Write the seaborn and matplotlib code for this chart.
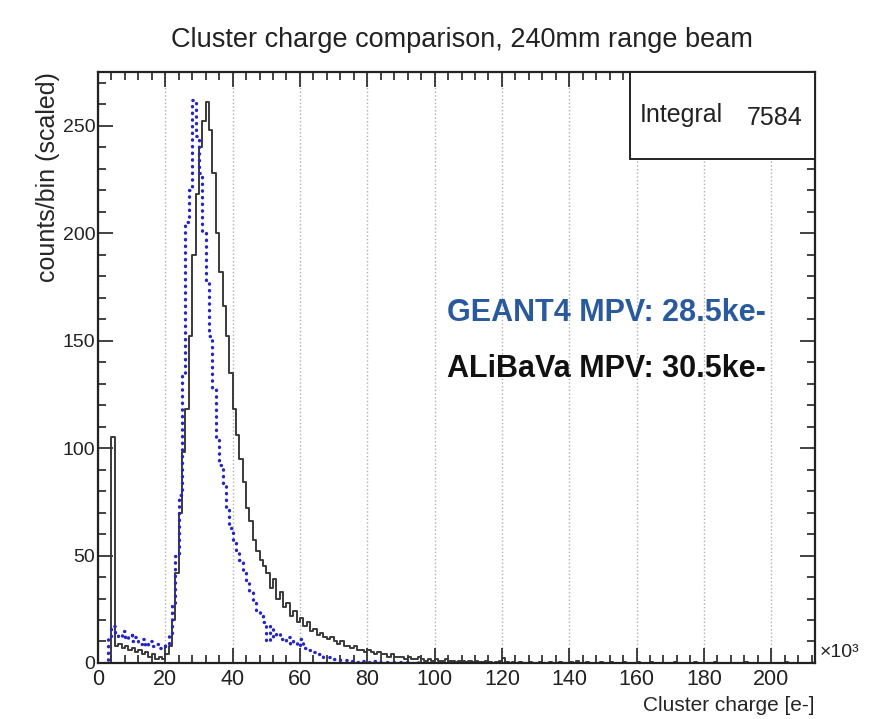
import numpy as np
import matplotlib
matplotlib.use("Agg")
import matplotlib.pyplot as plt
from matplotlib.patches import Rectangle
from matplotlib.ticker import MultipleLocator
import seaborn as sns

sns.set_style("ticks")
plt.rcParams['font.family'] = ['Liberation Sans', 'DejaVu Sans']

# Cluster charge bins, 1k e- wide, lower edges in units of 10^3 e-
bin_width = 1.0

# ALiBaVa data (counts/bin, scaled), bins 0..212
alibava_counts = [
    0, 0, 0, 0, 105, 8, 9, 7, 8, 6,
    7, 5, 6, 4, 5, 3, 4, 2, 3, 2,
    4, 8, 20, 42, 70, 98, 118, 152, 190, 218,
    240, 252, 261, 248, 228, 200, 182, 166, 152, 135,
    118, 106, 95, 84, 72, 66, 57, 52, 48, 45,
    42, 35, 39, 30, 33, 26, 28, 22, 24, 19,
    21, 17, 19, 15, 16, 13, 14, 12, 11, 12,
    10, 9, 10, 8, 8, 7, 8, 6, 6, 5,
    6, 5, 4, 5, 4, 4, 3, 4, 3, 3,
    3, 2, 3, 2, 2, 3, 2, 1, 2, 1,
    2, 1, 1, 2, 1, 1, 0.5, 1, 1, 0.5,
    1, 0.5, 1, 0.5, 0.5, 1, 0.5, 0, 0.5, 1,
    2.5, 0.5, 0, 0.5, 0, 0.5, 0, 0, 0.5, 0,
    0, 0.5, 0, 0, 0.5, 0, 0, 0.5, 0, 0,
    0.5, 0, 1, 0, 0, 0.5, 0, 0, 0, 0.5,
    0, 0, 0.5, 0, 0, 0, 0.5, 0, 0, 0,
    0.5, 0, 0, 0, 0.5, 0, 0, 0, 0, 0,
    0, 0.5, 0, 0, 0, 0, 0, 0.5, 0, 0,
    0, 0, 0, 0.5, 0, 0, 0, 0, 0, 0,
    0, 0, 0.5, 0, 0, 0, 0, 0, 0, 0,
    0, 0, 0, 0, 0.5, 0, 0, 0, 0, 0,
    0, 0, 0,
]

# GEANT4 simulation (counts/bin, scaled), bins 0..139
geant4_counts = [
    0, 0, 0, 12, 17, 14, 12, 15, 11, 13,
    10, 12, 9, 11, 8, 10, 8, 9, 7, 8,
    9, 13, 27, 50, 78, 135, 205, 220, 262, 245,
    228, 200, 178, 152, 128, 104, 92, 83, 72, 63,
    56, 52, 48, 42, 38, 33, 28, 24, 22, 19,
    10, 17, 12, 14, 11, 10, 12, 9, 10, 8,
    11, 7, 6, 5, 5, 4, 4, 3, 3, 2,
    2, 2, 1.5, 1.5, 1, 1, 1, 0.5, 1, 0.5,
    0.5, 0.5, 1, 0.5, 0.5, 0.5, 0.3, 0.5, 0.3, 0.3,
    0.3, 0.3, 0.3, 0.2, 0.3, 0.2, 0.2, 0.2, 0.2, 0.2,
    0.2, 0.1, 0.2, 0.1, 0.1, 0.2, 0.1, 0.1, 0.1, 0.1,
    0.1, 0.1, 0, 0.1, 0.1, 0, 0.1, 0, 0.1, 0,
    0.1, 0, 0, 0.1, 0, 0, 0, 0.1, 0, 0,
    0, 0, 0, 0, 0.1, 0, 0, 0, 0, 0,
]

integral_value = 7584
geant4_mpv = 28.5
alibava_mpv = 30.5


def hist_inputs(counts):
    n = len(counts)
    centers = np.arange(n) * bin_width + bin_width / 2
    return centers, np.array(counts, dtype=float), (0, n * bin_width)


fig = plt.figure(figsize=(8.93, 7.19), dpi=100)
ax = fig.add_axes([0.1097, 0.0779, 0.8029, 0.8220])

x_a, w_a, r_a = hist_inputs(alibava_counts)
sns.histplot(x=x_a, weights=w_a, binwidth=bin_width, binrange=r_a,
             element="step", fill=False,
             color="#3a3a3a", linewidth=1.4, ax=ax)

x_g, w_g, r_g = hist_inputs(geant4_counts)
sns.histplot(x=x_g, weights=w_g, binwidth=bin_width, binrange=r_g,
             element="step", fill=False,
             color="#2626c6", linewidth=2.4, linestyle=(0, (0.1, 1.9)),
             dash_capstyle="round", ax=ax)

ax.set_xlim(0, 213)
ax.set_ylim(0, 275)

# ROOT-like ticks: inside, on all four sides
ax.xaxis.set_major_locator(MultipleLocator(20))
ax.xaxis.set_minor_locator(MultipleLocator(4))
ax.yaxis.set_major_locator(MultipleLocator(50))
ax.yaxis.set_minor_locator(MultipleLocator(10))
ax.tick_params(which="both", direction="in", top=True, right=True,
               colors="#222222", width=1.2)
ax.tick_params(axis="x", labelsize=15.5, pad=4)
ax.tick_params(axis="y", labelsize=14, pad=2)
ax.tick_params(which="major", length=11)
ax.tick_params(which="minor", length=5.5)
for sp in ax.spines.values():
    sp.set_linewidth(1.6)
    sp.set_color("#222222")

ax.grid(axis="x", which="major", linestyle=":", color="#b0b0b0", linewidth=1)
ax.grid(axis="y", visible=False)

ax.set_xlabel("Cluster charge [e-]", fontsize=15, loc="right", labelpad=5)
ax.set_ylabel("counts/bin (scaled)", fontsize=18, loc="top", labelpad=2)
fig.text(0.517, 0.944, "Cluster charge comparison, 240mm range beam",
         ha="center", va="center", fontsize=19.5, color="#222222")
fig.text(0.918, 0.093, "×10³", fontsize=14, ha="left", va="center", color="#222222")

# stat box
ax.add_patch(Rectangle((0.742, 0.852), 0.258, 0.148, transform=ax.transAxes,
                       facecolor="white", edgecolor="#222222", linewidth=1.4,
                       zorder=5))
ax.text(0.756, 0.927, "Integral", transform=ax.transAxes, fontsize=18,
        ha="left", va="center", zorder=6, color="#222222")
ax.text(0.983, 0.922, f"{integral_value}", transform=ax.transAxes, fontsize=18,
        ha="right", va="center", zorder=6, color="#222222")

ax.text(0.487, 0.593, f"GEANT4 MPV: {geant4_mpv}ke-", transform=ax.transAxes,
        fontsize=22, fontweight="bold", color="#2a5a9e", ha="left", va="center")
ax.text(0.487, 0.498, f"ALiBaVa MPV: {alibava_mpv}ke-", transform=ax.transAxes,
        fontsize=22, fontweight="bold", color="#111111", ha="left", va="center")

fig.savefig("out.png", dpi=100)
